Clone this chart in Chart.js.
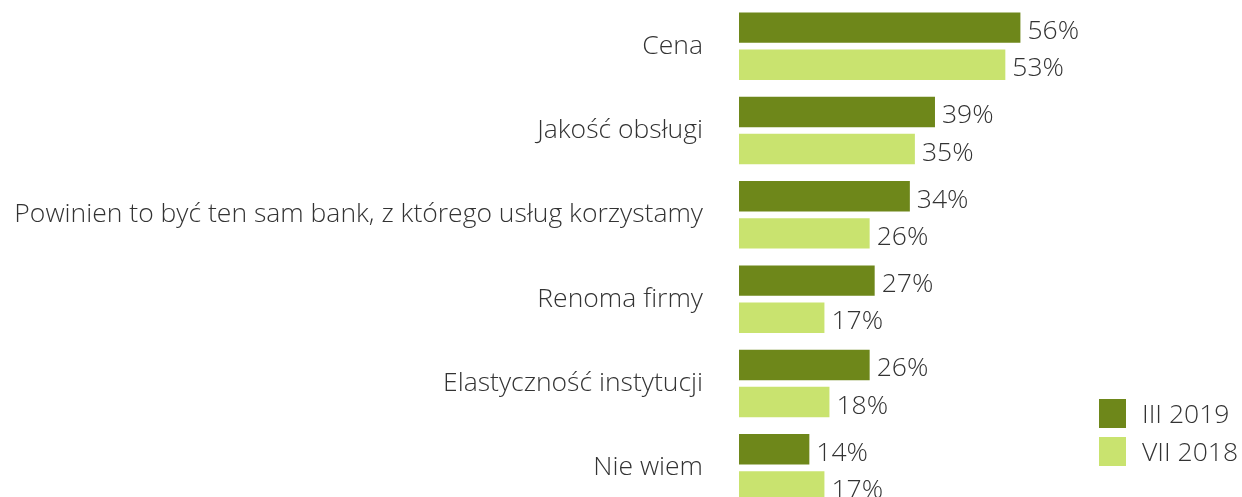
<!DOCTYPE html>
<html>
<head>
<meta charset="utf-8">
<script src="https://cdn.jsdelivr.net/npm/chart.js@4"></script>
<style>
  html, body { margin: 0; padding: 0; background: #fff; overflow: hidden; }
  #wrap { position: relative; width: 1242px; height: 497px; overflow: hidden; }
  #chart { position: absolute; left: 0; top: 0; }
  .legend { position: absolute; left: 1099px; font: 300 26.5px "Open Sans", sans-serif; color: #333; }
  .legend div { display: flex; align-items: center; height: 38px; }
  .legend span.box { display: inline-block; width: 27px; height: 29px; margin-right: 16px; }
</style>
</head>
<body>
<div id="wrap">
  <canvas id="chart" width="1242" height="510"></canvas>
  <div class="legend" id="legend" style="top:394px"></div>
</div>
<script>
const categories = ["Cena", "Jakość obsługi", "Powinien to być ten sam bank, z którego usług korzystamy", "Renoma firmy", "Elastyczność instytucji", "Nie wiem"];
const seriesNames = ["III 2019", "VII 2018"];
const march2019 = [56, 39, 34, 27, 26, 14];
const july2018 = [53, 35, 26, 17, 18, 17];
const colors = ["#6e871a", "#c9e36f"];
const font = { family: "'Open Sans', sans-serif", weight: "300", size: 26.5 };

// percentage text to the right of each bar
const valueLabels = {
  id: "valueLabels",
  afterDatasetsDraw(chart) {
    const ctx = chart.ctx;
    ctx.save();
    ctx.font = `300 26.5px 'Open Sans', sans-serif`;
    ctx.fillStyle = "#333";
    ctx.textBaseline = "middle";
    chart.data.datasets.forEach((ds, i) => {
      chart.getDatasetMeta(i).data.forEach((bar, j) => {
        ctx.fillText(ds.data[j] + "%", bar.x + 7, bar.y + 4);
      });
    });
    ctx.restore();
  }
};

new Chart(document.getElementById("chart"), {
  type: "bar",
  data: {
    labels: categories,
    datasets: [
      { label: seriesNames[0], data: march2019, backgroundColor: colors[0], categoryPercentage: 0.88, barPercentage: 0.82 },
      { label: seriesNames[1], data: july2018, backgroundColor: colors[1], categoryPercentage: 0.88, barPercentage: 0.82 }
    ]
  },
  options: {
    indexAxis: "y",
    responsive: false,
    animation: false,
    layout: { autoPadding: false, padding: { top: 4, right: 3, bottom: 0, left: 0 } },
    plugins: { legend: { display: false }, tooltip: { enabled: false } },
    scales: {
      x: { display: false, min: 0, max: 99.5 },
      y: {
        grid: { display: false, drawTicks: false },
        border: { display: false },
        ticks: { color: "#333", font, padding: 36 },
        afterFit(scale) {
          scale.width = 739;
          scale.paddingTop = 0;
          scale.paddingBottom = 0;
        }
      }
    }
  },
  plugins: [valueLabels]
});

document.getElementById("legend").innerHTML = seriesNames
  .map((name, i) => `<div><span class="box" style="background:${colors[i]}"></span>${name}</div>`)
  .join("");
</script>
</body>
</html>
